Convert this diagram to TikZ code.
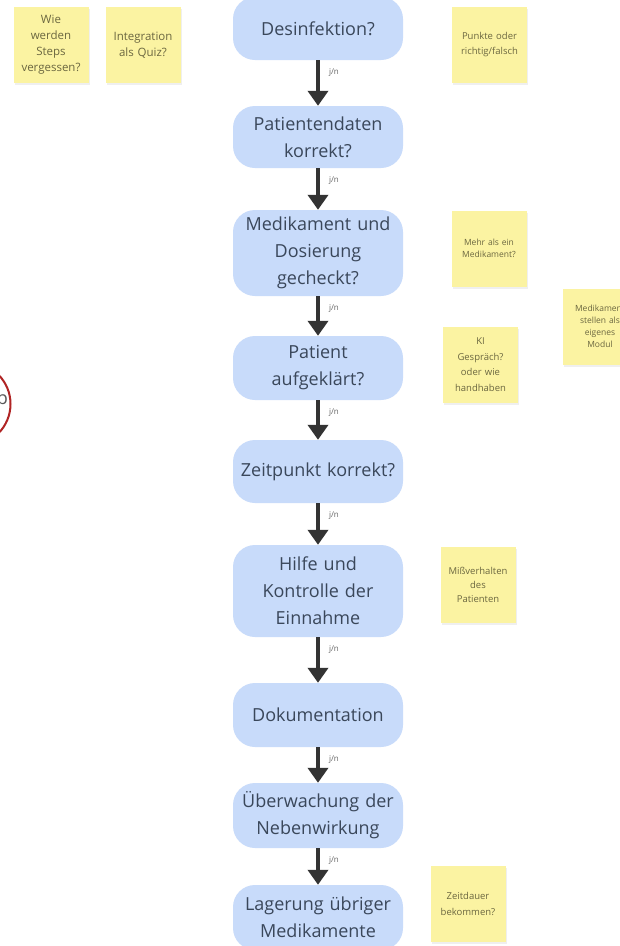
\documentclass[tikz,border=0pt]{standalone}
\usepackage{fontspec}
\setmainfont{Open Sans}
\usetikzlibrary{arrows.meta,shadows}
\definecolor{boxblue}{HTML}{C8DBFA}
\definecolor{boxtext}{HTML}{3A475A}
\definecolor{sticky}{HTML}{FBF3A2}
\definecolor{stickytext}{HTML}{6B6740}
\definecolor{arrowc}{HTML}{333333}
\definecolor{loopred}{HTML}{B02424}
\begin{document}
\begin{tikzpicture}[x=1pt,y=-1pt,
  flow/.style={fill=boxblue, rounded corners=22pt, minimum width=170pt, text width=168pt,
    align=center, text=boxtext, font=\fontsize{18}{27}\selectfont, inner sep=0pt},
  note/.style={fill=sticky, minimum width=75pt, minimum height=76pt, text width=73pt,
    align=center, text=stickytext, inner sep=0pt,
    drop shadow={opacity=0.12,shadow xshift=1pt,shadow yshift=-2pt}},
  flowarrow/.style={-{Triangle[width=20pt,length=15pt]}, line width=4pt, draw=arrowc},
  yn/.style={font=\fontsize{8}{9}\selectfont, text=black!60, anchor=west, inner sep=0pt}
]
\clip (0,0) rectangle (620,946);
\fill[white] (0,0) rectangle (620,946);

% flow boxes
\node[flow, minimum height=63pt] (b1) at (318,28.5) {Desinfektion?};
\node[flow, minimum height=62pt] (b2) at (318,137) {Patientendaten\\korrekt?};
\node[flow, minimum height=86pt] (b3) at (318,253) {Medikament und\\Dosierung\\gecheckt?};
\node[flow, minimum height=64pt] (b4) at (318,368) {Patient\\aufgeklärt?};
\node[flow, minimum height=63pt] (b5) at (318,471.5) {Zeitpunkt korrekt?};
\node[flow, minimum height=92pt] (b6) at (318,591) {Hilfe und\\Kontrolle der\\Einnahme};
\node[flow, minimum height=64pt] (b7) at (318,715) {Dokumentation};
\node[flow, minimum height=65pt] (b8) at (318,815.5) {Überwachung der\\Nebenwirkung};
\node[flow, minimum height=65pt] (b9) at (318,917.5) {Lagerung übriger\\Medikamente};

% arrows
\foreach \a/\b in {b1/b2,b2/b3,b3/b4,b4/b5,b5/b6,b6/b7,b7/b8,b8/b9}{
  \draw[flowarrow] (\a) -- (\b) node[yn, at start, xshift=9pt, yshift=-12pt] {j/n};
}

% sticky notes
\node[note, font=\fontsize{11.5}{16}\selectfont] (n1) at (51,45) {Wie\\werden\\Steps\\vergessen?};
\node[note, font=\fontsize{11.5}{16}\selectfont] (n2) at (143,45) {Integration\\als Quiz?};
\node[note, font=\fontsize{9.5}{15}\selectfont] (n3) at (489.5,45) {Punkte oder\\richtig/falsch};
\node[note, font=\fontsize{8.5}{11.5}\selectfont] (n4) at (489,248.5) {Mehr als ein\\Medikament?};
\node[note, font=\fontsize{8.5}{12}\selectfont] (n5) at (600,326.5) {Medikament\\stellen als\\eigenes\\Modul};
\node[note, font=\fontsize{9.5}{15.5}\selectfont] (n6) at (480.5,364.5) {KI\\Gespräch?\\oder wie\\handhaben};
\node[note, font=\fontsize{9.5}{14}\selectfont] (n7) at (478,584.5) {Mißverhalten\\des\\Patienten};
\node[note, font=\fontsize{9.5}{16}\selectfont] (n8) at (468,904) {Zeitdauer\\bekommen?};

% partial red loop marker at left edge
\node[draw=loopred, line width=2pt, circle, minimum size=83pt, inner sep=0pt] (loop) at (-31,404) {};
\node[anchor=east, text=black!65, font=\fontsize{18}{27}\selectfont, inner sep=0pt] (lp) at (8,402) {p};
\end{tikzpicture}
\end{document}
